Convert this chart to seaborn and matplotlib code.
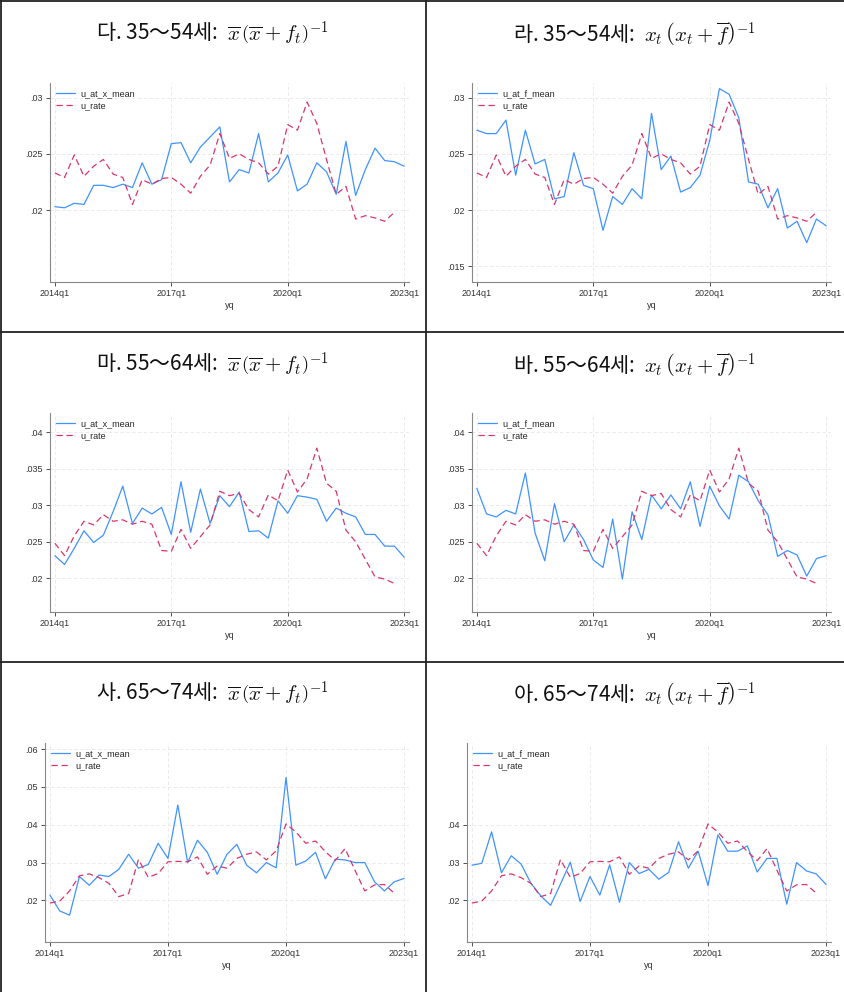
import numpy as np
import pandas as pd
import matplotlib
matplotlib.use("Agg")
import matplotlib.pyplot as plt
from matplotlib.lines import Line2D
from matplotlib.ticker import FixedLocator, FuncFormatter
from matplotlib.font_manager import FontProperties
from matplotlib.mathtext import MathTextParser
import seaborn as sns

# ---- data (quarterly, 2014q1 .. 2023q1) ----
xtick_pos = [0, 12, 24, 36]
xtick_labels = ["2014q1", "2017q1", "2020q1", "2023q1"]

urate_35_54 = [0.0233, 0.0229, 0.0249, 0.0230, 0.0239, 0.0245, 0.0232, 0.0229, 0.0205,
               0.0227, 0.0223, 0.0228, 0.0229, 0.0223, 0.0215, 0.0230, 0.0240, 0.0268,
               0.0246, 0.0250, 0.0245, 0.0242, 0.0232, 0.0239, 0.0276, 0.0271, 0.0296,
               0.0277, 0.0245, 0.0214, 0.0221, 0.0192, 0.0195, 0.0193, 0.0190, 0.0198]
xmean_35_54 = [0.0203, 0.0202, 0.0206, 0.0205, 0.0222, 0.0222, 0.0220, 0.0223, 0.0220,
               0.0242, 0.0223, 0.0227, 0.0259, 0.0260, 0.0242, 0.0256, 0.0265, 0.0274,
               0.0225, 0.0236, 0.0233, 0.0268, 0.0225, 0.0233, 0.0249, 0.0217, 0.0223,
               0.0242, 0.0234, 0.0214, 0.0261, 0.0213, 0.0236, 0.0255, 0.0244, 0.0243,
               0.0239]
fmean_35_54 = [0.0271, 0.0268, 0.0268, 0.0280, 0.0231, 0.0271, 0.0241, 0.0245, 0.0210,
               0.0212, 0.0251, 0.0222, 0.0219, 0.0182, 0.0212, 0.0205, 0.0219, 0.0210,
               0.0286, 0.0236, 0.0248, 0.0216, 0.0220, 0.0231, 0.0262, 0.0308, 0.0303,
               0.0282, 0.0225, 0.0223, 0.0202, 0.0219, 0.0184, 0.0190, 0.0171, 0.0192,
               0.0186]

urate_55_64 = [0.0248, 0.0231, 0.0258, 0.0278, 0.0273, 0.0287, 0.0278, 0.0280, 0.0274,
               0.0278, 0.0274, 0.0238, 0.0237, 0.0267, 0.0241, 0.0257, 0.0273, 0.0319,
               0.0313, 0.0316, 0.0294, 0.0284, 0.0314, 0.0306, 0.0348, 0.0318, 0.0336,
               0.0378, 0.0330, 0.0319, 0.0266, 0.0250, 0.0226, 0.0202, 0.0199, 0.0193]
xmean_55_64 = [0.0231, 0.0219, 0.0241, 0.0265, 0.0249, 0.0259, 0.0291, 0.0326, 0.0275,
               0.0296, 0.0288, 0.0297, 0.0260, 0.0332, 0.0263, 0.0322, 0.0275, 0.0313,
               0.0298, 0.0318, 0.0264, 0.0265, 0.0255, 0.0306, 0.0289, 0.0313, 0.0311,
               0.0308, 0.0278, 0.0296, 0.0289, 0.0284, 0.0260, 0.0260, 0.0244, 0.0244,
               0.0229]
fmean_55_64 = [0.0323, 0.0288, 0.0284, 0.0293, 0.0288, 0.0344, 0.0262, 0.0224, 0.0302,
               0.0250, 0.0273, 0.0253, 0.0225, 0.0215, 0.0281, 0.0199, 0.0291, 0.0253,
               0.0314, 0.0295, 0.0314, 0.0295, 0.0332, 0.0271, 0.0326, 0.0299, 0.0281,
               0.0341, 0.0332, 0.0306, 0.0287, 0.0230, 0.0238, 0.0232, 0.0203, 0.0227,
               0.0231]

urate_65_74 = [0.0193, 0.0198, 0.0225, 0.0265, 0.0270, 0.0260, 0.0245, 0.0210, 0.0218,
               0.0308, 0.0261, 0.0271, 0.0302, 0.0303, 0.0302, 0.0315, 0.0269, 0.0291,
               0.0285, 0.0311, 0.0322, 0.0328, 0.0307, 0.0331, 0.0402, 0.0381, 0.0351,
               0.0357, 0.0329, 0.0305, 0.0337, 0.0280, 0.0225, 0.0241, 0.0242, 0.0219]
xmean_65_74 = [0.0214, 0.0172, 0.0161, 0.0263, 0.0240, 0.0267, 0.0263, 0.0282, 0.0322,
               0.0285, 0.0295, 0.0351, 0.0311, 0.0452, 0.0300, 0.0359, 0.0327, 0.0269,
               0.0322, 0.0348, 0.0293, 0.0273, 0.0300, 0.0286, 0.0525, 0.0293, 0.0304,
               0.0327, 0.0257, 0.0309, 0.0307, 0.0300, 0.0300, 0.0249, 0.0225, 0.0249,
               0.0258]
fmean_65_74 = [0.0293, 0.0298, 0.0381, 0.0273, 0.0318, 0.0296, 0.0245, 0.0212, 0.0187,
               0.0243, 0.0301, 0.0197, 0.0263, 0.0214, 0.0294, 0.0195, 0.0300, 0.0271,
               0.0282, 0.0256, 0.0274, 0.0355, 0.0285, 0.0330, 0.0239, 0.0373, 0.0330,
               0.0330, 0.0344, 0.0275, 0.0311, 0.0311, 0.0190, 0.0300, 0.0278, 0.0270,
               0.0242]

BLUE = "#3f93ff"
PINK = "#d9366e"

sns.set_style("white")
plt.rcParams["font.family"] = ["Liberation Sans", "DejaVu Sans"]
plt.rcParams["mathtext.fontset"] = "cm"

_mt = MathTextParser("path")


def first_valid(*candidates):
    """Return the first mathtext string the parser accepts."""
    for c in candidates:
        try:
            _mt.parse(c, dpi=100, prop=FontProperties(size=15))
            return c
        except Exception:
            continue
    return candidates[-1]


title_left = first_valid(
    r"$\overline{x}\,\biggl(\overline{x}+f_t\biggr)^{-1}$",
    r"$\overline{x}\,\Bigl(\overline{x}+f_t\Bigr)^{-1}$",
    r"$\overline{x}\,\left(\overline{x}+f_t\right)^{-1}$",
)
title_right = first_valid(
    r"$x_t\,\biggl(x_t+\overline{f}\biggr)^{-1}$",
    r"$x_t\,\Bigl(x_t+\overline{f}\Bigr)^{-1}$",
    r"$x_t\,\left(x_t+\overline{f}\right)^{-1}$",
)

panels = [
    # (label, age, formula, model name, model series, u_rate series, yticks, ylim)
    ("다.", "35～54세:", title_left, "u_at_x_mean", xmean_35_54, urate_35_54,
     [0.02, 0.025, 0.03], (0.0136, 0.0313)),
    ("라.", "35～54세:", title_right, "u_at_f_mean", fmean_35_54, urate_35_54,
     [0.015, 0.02, 0.025, 0.03], (0.0136, 0.0313)),
    ("마.", "55～64세:", title_left, "u_at_x_mean", xmean_55_64, urate_55_64,
     [0.02, 0.025, 0.03, 0.035, 0.04], (0.0154, 0.0426)),
    ("바.", "55～64세:", title_right, "u_at_f_mean", fmean_55_64, urate_55_64,
     [0.02, 0.025, 0.03, 0.035, 0.04], (0.0154, 0.0426)),
    ("사.", "65～74세:", title_left, "u_at_x_mean", xmean_65_74, urate_65_74,
     [0.02, 0.03, 0.04, 0.05, 0.06], (0.009, 0.0616)),
    ("아.", "65～74세:", title_right, "u_at_f_mean", fmean_65_74, urate_65_74,
     [0.02, 0.03, 0.04], (0.009, 0.0616)),
]

W, H = 844, 992
fig = plt.figure(figsize=(W / 100, H / 100), dpi=100)
fig.patch.set_facecolor("white")

# axes boxes in pixels: (left, top, right, bottom)
boxes = [
    (50, 83, 409, 282), (472, 83, 831, 282),
    (50, 413, 409, 612), (472, 413, 831, 612),
    (45, 743, 409, 942), (467, 743, 831, 942),
]
cell_centers = [(212, 34), (634, 34), (212, 365), (634, 365), (212, 694), (634, 694)]


def dot_fmt(v, _):
    s = ("%g" % v)
    return s[1:] if s.startswith("0.") else s


for (lab, age, formula, mname, mvals, uvals, yt, yl), (l, t, r, b), (cx, cy) in zip(
        panels, boxes, cell_centers):
    ax = fig.add_axes([l / W, 1 - b / H, (r - l) / W, (b - t) / H])
    df_m = pd.DataFrame({"yq": np.arange(len(mvals)), "value": mvals})
    df_u = pd.DataFrame({"yq": np.arange(len(uvals)), "value": uvals})
    sns.lineplot(data=df_m, x="yq", y="value", ax=ax, color=BLUE, lw=0.9,
                 label=mname, zorder=3)
    sns.lineplot(data=df_u, x="yq", y="value", ax=ax, color=PINK, lw=0.9,
                 linestyle=(0, (5, 3)), label="u_rate", zorder=3)

    ax.set_xlim(-0.5, 36.5)
    ax.set_ylim(*yl)
    ax.xaxis.set_major_locator(FixedLocator(xtick_pos))
    ax.set_xticklabels(xtick_labels)
    ax.yaxis.set_major_locator(FixedLocator(yt))
    ax.yaxis.set_major_formatter(FuncFormatter(dot_fmt))
    ax.set_xlabel("yq", fontsize=6.5, color="#333333", labelpad=2)
    ax.set_ylabel("")
    ax.tick_params(axis="both", labelsize=6.5, colors="#333333", length=3,
                   width=0.6, direction="out", pad=2, left=True, bottom=True)
    for s in ("top", "right"):
        ax.spines[s].set_visible(False)
    for s in ("left", "bottom"):
        ax.spines[s].set_color("#888888")
        ax.spines[s].set_linewidth(0.8)
    ax.grid(True, color="#e6e6e6", lw=0.6, linestyle=(0, (4, 3)), zorder=0)
    ax.set_axisbelow(True)
    ax.legend(loc="upper left", bbox_to_anchor=(0.0, 1.0), frameon=False,
              fontsize=6.5, handlelength=2.1, handletextpad=0.6,
              labelspacing=0.35, borderaxespad=0.3)

    fig.text(cx / W, 1 - cy / H, f"{lab} {age}  {formula}", ha="center", va="center",
             fontsize=15, family=["Noto Sans CJK KR", "DejaVu Sans"], color="#111111")

# table rules separating the six cells
rule = dict(color="#222222", lw=1.3, transform=fig.transFigure)
for y in (1, 332, 662):
    fig.add_artist(Line2D([0, 1], [1 - y / H, 1 - y / H], **rule))
for x in (1, 425.5):
    fig.add_artist(Line2D([x / W, x / W], [0, 1], **rule))

fig.savefig("out.png", dpi=100, facecolor="white")
